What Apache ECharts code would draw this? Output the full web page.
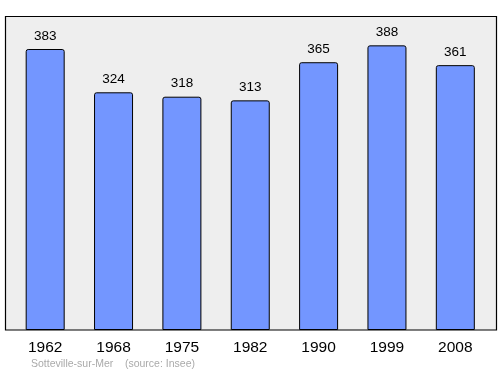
<!DOCTYPE html>
<html><head><meta charset="utf-8">
<script src="https://cdn.jsdelivr.net/npm/echarts@6/dist/echarts.min.js"></script>
<style>html,body{margin:0;padding:0;background:#fff}#c{width:500px;height:374px}</style>
</head><body><div id="c"></div>
<script>
var categories = ["1962","1968","1975","1982","1990","1999","2008"];
var population = [383,324,318,313,365,388,361];
var footerText = "Sotteville-sur-Mer    (source: Insee)";

var chart = echarts.init(document.getElementById('c'), null, {renderer:'canvas'});
chart.setOption({
  animation:false,
  backgroundColor:'#ffffff',
  graphic:[
    {type:'rect', shape:{x:5.5,y:16.5,width:491,height:313.5}, style:{fill:'#eeeeee',stroke:'#000',lineWidth:1.2}, z:-10},
    {type:'text', left:31, top:359, style:{text:footerText, fill:'#aaaaaa', font:'10.5px "Liberation Sans", Arial, sans-serif'}}
  ],
  grid:{left:11, right:10.5, top:16, bottom:44, containLabel:false},
  xAxis:{type:'category', data:categories,
    axisLine:{show:false}, axisTick:{show:false},
    axisLabel:{color:'#000', fontSize:15.5, fontFamily:'"Liberation Sans", Arial, sans-serif', margin:10}},
  yAxis:{type:'value', min:0, max:428, show:false, splitLine:{show:false}},
  series:[{type:'bar', data:population, barWidth:39,
    itemStyle:{color:'#7396ff', borderColor:'#000', borderWidth:1, borderRadius:[2,2,0,0]},
    label:{show:true, position:'top', distance:6, color:'#000', fontSize:13.5, fontFamily:'"Liberation Sans", Arial, sans-serif'}}]
});
</script></body></html>
